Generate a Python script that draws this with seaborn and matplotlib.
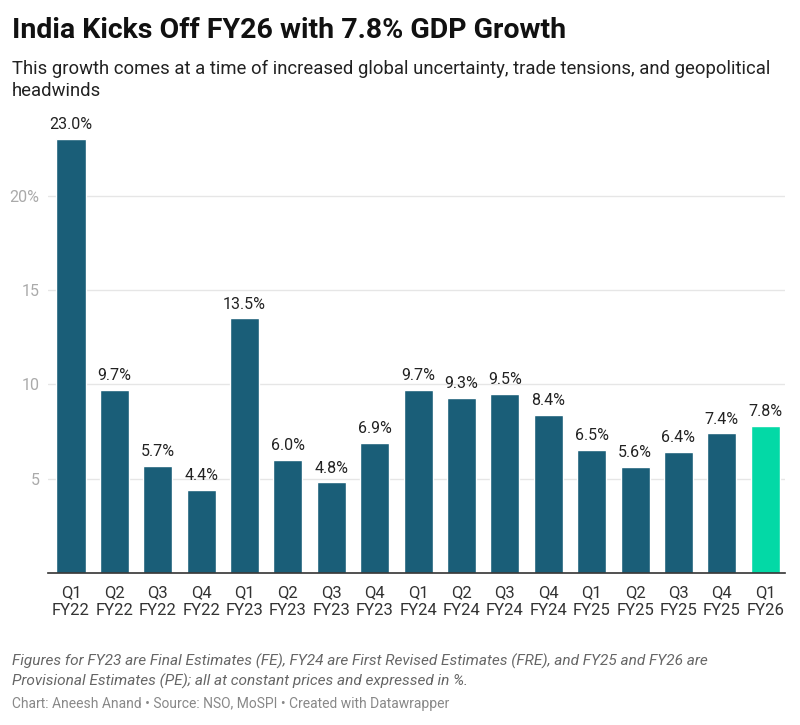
import matplotlib
matplotlib.use('Agg')
import matplotlib.pyplot as plt
import seaborn as sns
import pandas as pd

# data
quarters = ['Q1\nFY22', 'Q2\nFY22', 'Q3\nFY22', 'Q4\nFY22',
            'Q1\nFY23', 'Q2\nFY23', 'Q3\nFY23', 'Q4\nFY23',
            'Q1\nFY24', 'Q2\nFY24', 'Q3\nFY24', 'Q4\nFY24',
            'Q1\nFY25', 'Q2\nFY25', 'Q3\nFY25', 'Q4\nFY25',
            'Q1\nFY26']
growth = [23.0, 9.7, 5.7, 4.4, 13.5, 6.0, 4.8, 6.9,
          9.7, 9.3, 9.5, 8.4, 6.5, 5.6, 6.4, 7.4, 7.8]
y_ticks = [5, 10, 15, 20]
y_tick_labels = ['5', '10', '15', '20%']

BLUE = '#1a5e78'
GREEN = '#03d9a6'

df = pd.DataFrame({'quarter': quarters, 'growth': growth})
df['latest'] = ['no'] * (len(quarters) - 1) + ['yes']

sns.set_style('white')
plt.rcParams['font.family'] = ['Roboto', 'DejaVu Sans']

fig = plt.figure(figsize=(8, 7.25), dpi=100)
ax = fig.add_axes([0.06, 0.2097, 0.921, 0.637])

sns.barplot(data=df, x='quarter', y='growth', hue='latest',
            palette={'no': BLUE, 'yes': GREEN}, dodge=False,
            width=0.67, legend=False, saturation=1, ax=ax)

for p, v in zip(ax.patches, growth):
    ax.annotate(f'{v:.1f}%', (p.get_x() + p.get_width() / 2, p.get_height()),
                xytext=(0, 5), textcoords='offset points',
                ha='center', va='bottom', fontsize=11.5, color='#222222')

ax.set_ylim(0, 24.5)
ax.set_xlim(-0.53, 16.45)
ax.set_yticks(y_ticks)
ax.set_yticklabels(y_tick_labels)
ax.yaxis.grid(True, color='#e6e6e6', linewidth=1)
ax.set_axisbelow(True)
ax.set_xlabel('')
ax.set_ylabel('')

for s in ['top', 'right', 'left']:
    ax.spines[s].set_visible(False)
ax.spines['bottom'].set_color('#333333')
ax.spines['bottom'].set_linewidth(1.2)

ax.tick_params(axis='y', length=0, labelsize=11.5, labelcolor='#aaaaaa', pad=6)
ax.tick_params(axis='x', length=5, width=1, color='#333333',
               labelsize=12, labelcolor='#333333', pad=4)
for lbl in ax.get_yticklabels():
    lbl.set_horizontalalignment('right')

fig.text(0.015, 0.958, 'India Kicks Off FY26 with 7.8% GDP Growth',
         fontsize=20.5, fontweight='bold', color='#111111', va='center')
fig.text(0.015, 0.918, 'This growth comes at a time of increased global uncertainty, trade tensions, and geopolitical\nheadwinds',
         fontsize=13.3, color='#222222', va='top', linespacing=1.3)
fig.text(0.015, 0.0738, 'Figures for FY23 are Final Estimates (FE), FY24 are First Revised Estimates (FRE), and FY25 and FY26 are\nProvisional Estimates (PE); all at constant prices and expressed in %.',
         fontsize=11.1, color='#666666', style='italic', va='center', linespacing=1.35)
fig.text(0.015, 0.029, 'Chart: Aneesh Anand \u2022 Source: NSO, MoSPI \u2022 Created with Datawrapper',
         fontsize=10, color='#888888', va='center')

fig.savefig('out.png', dpi=100, facecolor='white')
